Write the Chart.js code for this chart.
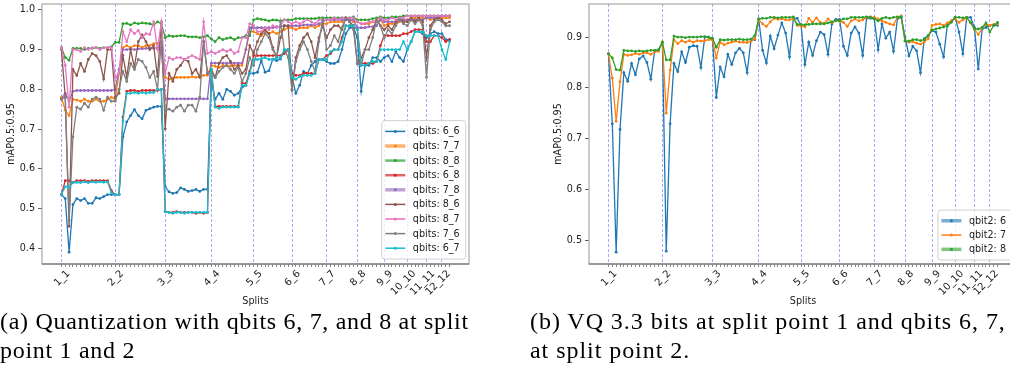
<!DOCTYPE html>
<html>
<head>
<meta charset="utf-8">
<script src="https://cdn.jsdelivr.net/npm/chart.js@4.4.1/dist/chart.umd.min.js"></script>
<style>
  html, body { margin: 0; padding: 0; background: #fff; width: 1010px; height: 366px; overflow: hidden; }
  canvas { position: absolute; top: 0; }
  .caption { position: absolute; top: 307px; font-family: "Liberation Serif", serif; font-size: 24px;
             line-height: 29px; color: #000; white-space: nowrap; }
</style>
</head>
<body>
<canvas id="chartA" width="505" height="312" style="left:0"></canvas>
<canvas id="chartB" width="506" height="312" style="left:547px"></canvas>
<div class="caption" style="left:0;letter-spacing:0.7px">(a) Quantization with qbits 6, 7, and 8 at split<br>point 1 and 2</div>
<div class="caption" style="left:530px;letter-spacing:0.95px">(b) VQ 3.3 bits at split point 1 and qbits 6, 7,<br>at split point 2.</div>
<script>
// x axis: split pairs i_j, first split i = 1..12, second split j = i..14
const firstSplits = [1, 2, 3, 4, 5, 6, 7, 8, 9, 10, 11, 12];
const lastSecondSplit = 14;
const splits = [];
firstSplits.forEach(i => { for (let j = i; j <= lastSecondSplit; j++) splits.push(i + '_' + j); });
const tickSplits = ['1_1', '2_2', '3_3', '4_4', '5_5', '6_6', '7_7', '8_8', '9_9', '10_10', '11_11', '12_12'];

const yTicksA = [0.4, 0.5, 0.6, 0.7, 0.8, 0.9, 1.0];
const yTicksB = [0.5, 0.6, 0.7, 0.8, 0.9];

// (a) one line per segment 1_x .. 12_x
const qbits66 = [
  .535,.525,.39,.51,.525,.52,.525,.513,.513,.527,.525,.53,.535,.535,
  .535,.535,.68,.718,.734,.749,.734,.726,.747,.751,.755,.757,.757,
  .555,.542,.538,.54,.552,.548,.543,.545,.548,.543,.548,.548,
  .82,.775,.79,.775,.8,.795,.785,.79,.805,.81,.84,
  .84,.843,.872,.843,.847,.876,.872,.876,.897,.9,
  .83,.79,.81,.845,.84,.86,.87,.875,.875,
  .87,.865,.865,.87,.9,.94,.955,.955,
  .93,.795,.86,.86,.88,.88,.87,
  .88,.885,.87,.895,.88,.87,
  .9,.92,.945,.945,.94,
  .93,.94,.945,.94,
  .94,.925,.925];
const qbits77 = [
  .78,.747,.734,.775,.773,.77,.775,.77,.77,.775,.77,.77,.775,.78,
  .775,.84,.905,.91,.905,.91,.91,.905,.91,.91,.915,.916,.915,
  .83,.825,.828,.83,.83,.83,.83,.832,.83,.832,.835,.835,
  .86,.858,.855,.86,.86,.858,.86,.86,.86,.9,.945,
  .945,.94,.935,.945,.94,.945,.94,.945,.95,.955,
  .955,.95,.955,.955,.955,.96,.955,.96,.965,
  .965,.97,.97,.97,.97,.975,.975,.97,
  .97,.965,.965,.965,.97,.97,.975,
  .96,.965,.965,.965,.97,.975,
  .975,.98,.98,.98,.98,
  .98,.975,.98,.98,
  .98,.98,.98];
const qbits88 = [
  .905,.88,.873,.903,.903,.903,.9,.903,.903,.905,.903,.905,.905,.907,
  .918,.918,.965,.966,.962,.967,.965,.967,.966,.965,.962,.97,.965,
  .93,.935,.933,.934,.935,.935,.932,.932,.932,.93,.932,.935,
  .927,.92,.93,.925,.928,.93,.925,.93,.93,.935,.935,
  .975,.978,.976,.975,.972,.975,.974,.972,.975,.975,
  .975,.978,.978,.978,.978,.978,.978,.98,.98,
  .98,.98,.98,.98,.98,.98,.98,.982,
  .975,.975,.975,.975,.978,.98,.982,
  .98,.98,.982,.982,.982,.985,
  .985,.985,.985,.985,.985,
  .985,.985,.985,.985,
  .985,.985,.985];
const qbits68 = [
  .535,.57,.57,.565,.57,.57,.57,.568,.57,.57,.57,.57,.57,.545,
  .535,.535,.73,.795,.797,.797,.795,.797,.797,.797,.797,.797,.8,
  .492,.49,.49,.492,.49,.49,.49,.49,.488,.49,.488,.49,
  .85,.757,.757,.757,.757,.757,.757,.757,.815,.815,.845,
  .885,.885,.885,.885,.885,.885,.885,.885,.89,.9,
  .84,.835,.835,.84,.84,.84,.84,.875,.875,
  .885,.89,.9,.9,.93,.96,.96,.96,
  .95,.865,.865,.865,.865,.87,.91,
  .935,.935,.935,.935,.935,.94,
  .94,.945,.95,.95,.95,
  .92,.92,.935,.935,
  .93,.92,.925];
const qbits78 = [
  .776,.79,.77,.795,.797,.797,.797,.797,.797,.797,.797,.797,.797,.797,
  .8,.85,.9,.9,.902,.9,.902,.902,.903,.903,.903,.905,.905,
  .776,.776,.776,.776,.776,.776,.776,.776,.776,.776,.776,.776,
  .866,.866,.866,.866,.866,.866,.866,.866,.866,.9,.955,
  .955,.955,.955,.955,.955,.955,.958,.958,.96,.96,
  .96,.96,.96,.962,.962,.962,.962,.965,.97,
  .975,.975,.975,.975,.975,.975,.975,.975,
  .955,.955,.955,.958,.958,.96,.975,
  .97,.97,.97,.97,.975,.975,
  .975,.975,.975,.975,.975,
  .98,.98,.98,.98,
  .985,.985,.985];
const qbits86 = [
  .9,.78,.455,.85,.835,.865,.845,.875,.89,.885,.87,.826,.9,.9,
  .78,.79,.885,.83,.9,.855,.92,.937,.92,.9,.91,.832,.97,
  .7,.84,.82,.85,.86,.875,.87,.84,.85,.83,.92,.84,
  .85,.83,.865,.88,.885,.87,.85,.86,.84,.85,.91,
  .89,.92,.94,.95,.94,.905,.88,.93,.96,.96,
  .8,.88,.91,.93,.94,.92,.88,.93,.96,
  .93,.95,.96,.96,.95,.98,.97,.96,
  .865,.88,.9,.93,.95,.975,.96,
  .95,.96,.95,.97,.98,.97,
  .97,.98,.97,.98,.97,
  .88,.96,.975,.98,
  .975,.965,.97];
const qbits87 = [
  .905,.86,.755,.9,.9,.895,.905,.9,.905,.905,.9,.905,.905,.905,
  .83,.84,.945,.92,.95,.94,.948,.93,.94,.938,.97,.9,.97,
  .84,.88,.875,.88,.88,.875,.88,.885,.88,.875,.97,.89,
  .895,.89,.895,.9,.895,.9,.89,.895,.93,.93,.965,
  .96,.945,.945,.955,.95,.96,.955,.96,.975,.97,
  .965,.97,.965,.97,.975,.97,.965,.975,.975,
  .975,.975,.98,.975,.98,.98,.98,.98,
  .97,.965,.965,.97,.97,.975,.98,
  .975,.975,.98,.975,.98,.98,
  .985,.985,.985,.985,.985,
  .985,.985,.985,.985,
  .985,.985,.985];
const qbits76 = [
  .775,.78,.47,.68,.755,.75,.765,.755,.775,.78,.775,.747,.78,.77,
  .77,.8,.845,.82,.865,.85,.875,.87,.855,.83,.845,.8,.92,
  .747,.75,.745,.755,.76,.745,.76,.76,.745,.78,.92,.84,
  .84,.83,.845,.855,.86,.85,.84,.855,.82,.84,.88,
  .86,.9,.92,.94,.93,.9,.88,.97,.9,.88,
  .797,.87,.9,.92,.9,.87,.845,.92,.975,
  .9,.91,.935,.92,.955,.98,.97,.95,
  .865,.86,.9,.9,.93,.975,.96,
  .93,.95,.94,.96,.975,.965,
  .96,.975,.965,.975,.96,
  .83,.95,.97,.975,
  .97,.96,.96];
const qbits67 = [
  .535,.555,.553,.565,.566,.565,.567,.565,.567,.566,.567,.566,.567,.54,
  .535,.535,.72,.79,.79,.792,.79,.792,.79,.792,.792,.8,.8,
  .492,.49,.488,.49,.49,.488,.49,.49,.49,.49,.49,.49,
  .85,.755,.752,.755,.755,.755,.755,.755,.81,.81,.84,
  .875,.875,.877,.88,.875,.875,.88,.88,.9,.9,
  .83,.825,.832,.835,.835,.835,.84,.875,.875,
  .875,.895,.9,.9,.92,.96,.96,.96,
  .95,.86,.86,.865,.87,.87,.9,
  .9,.9,.9,.9,.9,.92,
  .9,.92,.945,.945,.945,
  .935,.935,.935,.935,
  .9,.875,.92];

// (b) VQ 3.3 bits at split 1, qbit2 at split 2
const qbit2_6 = [
  .867,.729,.476,.718,.83,.813,.848,.826,.857,.863,.85,.817,.874,.875,
  .89,.478,.729,.848,.832,.871,.85,.88,.883,.882,.84,.9,.9,
  .895,.781,.841,.822,.866,.846,.869,.878,.869,.83,.895,.895,
  .935,.874,.849,.902,.877,.904,.928,.908,.861,.937,.937,
  .923,.846,.89,.864,.893,.91,.905,.866,.926,.935,
  .935,.882,.864,.908,.92,.908,.864,.937,.937,
  .936,.875,.926,.898,.91,.872,.936,.939,
  .9,.863,.882,.873,.83,.897,.903,
  .913,.91,.886,.861,.926,.932,
  .939,.91,.867,.939,.939,
  .919,.837,.916,.919,
  .923,.923,.923];
const qbit2_7 = [
  .867,.819,.734,.812,.866,.864,.865,.868,.866,.869,.869,.866,.871,.872,
  .89,.75,.835,.895,.887,.893,.89,.893,.89,.893,.892,.893,.895,
  .895,.859,.89,.885,.888,.89,.892,.89,.89,.889,.892,.897,
  .935,.926,.921,.93,.937,.935,.936,.934,.934,.937,.923,
  .922,.92,.937,.929,.938,.929,.927,.936,.929,.932,
  .932,.929,.921,.932,.936,.932,.934,.939,.939,
  .939,.936,.932,.929,.926,.924,.939,.942,
  .893,.89,.891,.888,.886,.891,.897,
  .923,.925,.926,.923,.928,.932,
  .936,.929,.934,.939,.928,
  .916,.905,.918,.925,
  .923,.925,.926];
const qbit2_8 = [
  .867,.859,.836,.835,.874,.873,.873,.872,.873,.872,.873,.874,.874,.875,
  .89,.855,.855,.902,.9,.9,.899,.9,.9,.9,.901,.901,.9,
  .898,.88,.895,.894,.895,.895,.895,.896,.895,.895,.896,.903,
  .936,.937,.937,.939,.939,.938,.939,.939,.939,.94,.925,
  .925,.924,.925,.926,.926,.926,.926,.928,.93,.933,
  .932,.936,.936,.939,.939,.939,.939,.94,.94,
  .936,.932,.937,.939,.937,.939,.94,.94,
  .892,.892,.895,.895,.893,.895,.903,
  .914,.916,.918,.92,.922,.929,
  .939,.939,.938,.939,.929,
  .916,.916,.919,.928,
  .91,.923,.929];

const namesA = ['qbits: 6_6', 'qbits: 7_7', 'qbits: 8_8', 'qbits: 6_8', 'qbits: 7_8',
                'qbits: 8_6', 'qbits: 8_7', 'qbits: 7_6', 'qbits: 6_7'];
const seriesA = [qbits66, qbits77, qbits88, qbits68, qbits78, qbits86, qbits87, qbits76, qbits67];
const namesB = ['qbit2: 6', 'qbit2: 7', 'qbit2: 8'];
const seriesB = [qbit2_6, qbit2_7, qbit2_8];

const tab10 = ['#1f77b4', '#ff7f0e', '#2ca02c', '#d62728', '#9467bd', '#8c564b', '#e377c2', '#7f7f7f', '#17becf'];
const FONT = '"DejaVu Sans", sans-serif';

// frame + matplotlib-like legend in lower right
const boxLegend = {
  id: 'boxLegend',
  afterDatasetsDraw(chart, args, opt) {
    const ctx = chart.ctx, a = chart.chartArea;
    const sets = chart.data.datasets;
    ctx.save();
    ctx.font = '9.6px ' + FONT;
    const tw = Math.max(...sets.map(d => ctx.measureText(d.label).width));
    const w = 31 + tw + 6;
    const h = sets.length * opt.rowH + 7;
    const x = a.right - opt.marginX - w;
    const y = a.bottom - opt.marginY - h;
    ctx.beginPath();
    ctx.roundRect(x, y, w, h, 3);
    ctx.fillStyle = 'rgba(255,255,255,0.8)';
    ctx.fill();
    ctx.strokeStyle = '#d0d0d0';
    ctx.lineWidth = 1;
    ctx.stroke();
    sets.forEach((d, k) => {
      const cy = y + 3.5 + opt.rowH * (k + 0.5);
      ctx.globalAlpha = d.handleAlpha;
      ctx.strokeStyle = d.borderColor;
      ctx.lineWidth = d.handleWidth;
      ctx.beginPath();
      ctx.moveTo(x + 3.5, cy);
      ctx.lineTo(x + 23.5, cy);
      ctx.stroke();
      ctx.globalAlpha = 1;
      ctx.fillStyle = d.borderColor;
      ctx.beginPath();
      ctx.arc(x + 13.5, cy, 1.5, 0, Math.PI * 2);
      ctx.fill();
      ctx.fillStyle = '#222';
      ctx.textBaseline = 'middle';
      ctx.fillText(d.label, x + 31, cy + 0.5);
    });
    ctx.restore();
  },
  afterDraw(chart) {
    const ctx = chart.ctx, a = chart.chartArea;
    ctx.save();
    ctx.strokeStyle = '#a8a8a8';
    ctx.lineWidth = 1.2;
    ctx.strokeRect(a.left, a.top, a.width, a.height);
    ctx.strokeStyle = '#666';
    ctx.beginPath();
    ctx.moveTo(a.left, a.bottom);
    ctx.lineTo(a.right, a.bottom);
    ctx.stroke();
    ctx.restore();
  }
};

function makeChart(id, series, names, colors, handles, yTicks, legendOpt) {
  const all = series.flat();
  const lo = Math.min(...all), hi = Math.max(...all);
  const pad = (hi - lo) * 0.05;
  const xPad = (splits.length - 1) * 0.05;
  const datasets = series.map((vals, k) => ({
    label: names[k],
    data: vals.map((v, i) => ({ x: i, y: v })),
    borderColor: colors[k],
    backgroundColor: colors[k],
    pointBackgroundColor: colors[k],
    borderWidth: 1.3,
    pointRadius: 1.4,
    pointBorderWidth: 0,
    tension: 0,
    order: series.length - k,
    handleWidth: handles[k][0],
    handleAlpha: handles[k][1]
  }));
  return new Chart(document.getElementById(id).getContext('2d'), {
    type: 'line',
    data: { datasets },
    options: {
      responsive: false,
      animation: false,
      events: [],
      layout: { padding: { top: 2, right: 36, bottom: 0, left: 0 } },
      plugins: { legend: { display: false }, tooltip: { enabled: false }, boxLegend: legendOpt },
      scales: {
        x: {
          type: 'linear',
          min: -xPad,
          max: splits.length - 1 + xPad,
          afterBuildTicks: s => { s.ticks = splits.map((_, i) => ({ value: i })); },
          afterFit: s => { s.height = 48; s.paddingLeft = 0; s.paddingRight = 0; },
          ticks: {
            autoSkip: false,
            minRotation: 45,
            maxRotation: 45,
            labelOffset: 7,
            padding: 1,
            color: '#222',
            font: { family: FONT, size: 10 },
            callback: v => tickSplits.includes(splits[v]) ? splits[v] : ''
          },
          grid: {
            drawOnChartArea: true,
            color: c => (c.tick && tickSplits.includes(splits[c.tick.value])) ? 'rgba(70,70,255,0.6)' : 'rgba(0,0,0,0)',
            lineWidth: 0.8,
            tickColor: '#555',
            tickLength: 3,
            tickWidth: 0.7
          },
          border: { display: false, dash: [3, 2] },
          title: { display: true, text: 'Splits', color: '#222', font: { family: FONT, size: 9.6 }, padding: { top: 0, bottom: 5 } }
        },
        y: {
          min: lo - pad,
          max: hi + pad,
          afterBuildTicks: s => { s.ticks = yTicks.map(v => ({ value: v })); },
          afterFit: s => { s.width = 42; s.paddingTop = 0; s.paddingBottom = 0; },
          ticks: { color: '#222', padding: 3, font: { family: FONT, size: 9.6 }, callback: v => v.toFixed(1) },
          grid: { drawOnChartArea: false, tickLength: 4, tickColor: '#333', tickWidth: 0.8 },
          border: { display: false },
          title: { display: true, text: 'mAP0.5:0.95', color: '#222', font: { family: FONT, size: 9.6 }, padding: { top: 6, bottom: 0 } }
        }
      }
    },
    plugins: [boxLegend]
  });
}

// legend handle [width, alpha] per series
const handlesA = [[1.5, 1], [3.5, 0.6], [2.5, 0.7], [2.5, 0.7], [3.5, 0.6], [1.5, 1], [2, 0.8], [1.5, 1], [1.5, 1]];
const handlesB = [[3.5, 0.6], [1.5, 1], [3.5, 0.6]];

makeChart('chartA', seriesA, namesA, tab10, handlesA, yTicksA, { rowH: 14.6, marginX: 3.3, marginY: 5 });
makeChart('chartB', seriesB, namesB, tab10, handlesB, yTicksB, { rowH: 14.3, marginX: 5, marginY: 4 });
</script>
</body>
</html>
